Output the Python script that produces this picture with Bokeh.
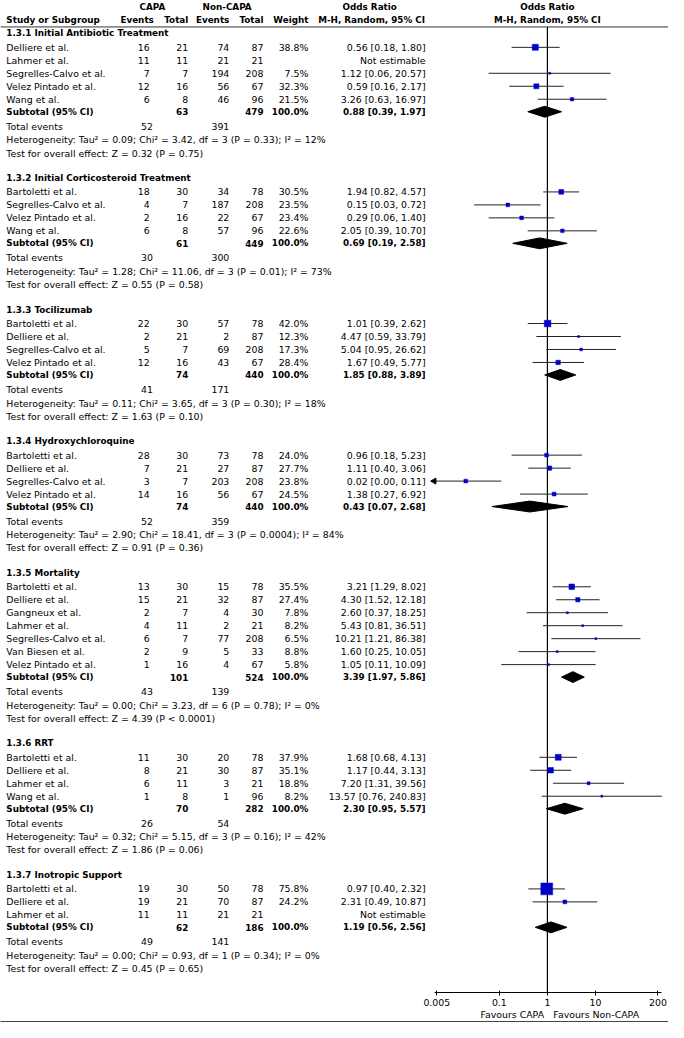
import math
from bokeh.plotting import figure
from bokeh.models import (Range1d, LogScale, LogAxis, LinearAxis, FixedTicker,
                          NumeralTickFormatter, CustomJSTickFormatter, ColumnDataSource)
from bokeh.core.properties import value
from bokeh.embed import file_html
from bokeh.resources import INLINE

# ---------------- data ----------------
group_titles = ["1.3.1 Initial Antibiotic Treatment", "1.3.2 Initial Corticosteroid Treatment",
                "1.3.3 Tocilizumab", "1.3.4 Hydroxychloroquine", "1.3.5 Mortality",
                "1.3.6 RRT", "1.3.7 Inotropic Support"]
study_names = [
    ["Delliere et al.", "Lahmer et al.", "Segrelles-Calvo et al.", "Velez Pintado et al.", "Wang et al."],
    ["Bartoletti et al.", "Segrelles-Calvo et al.", "Velez Pintado et al.", "Wang et al."],
    ["Bartoletti et al.", "Delliere et al.", "Segrelles-Calvo et al.", "Velez Pintado et al."],
    ["Bartoletti et al.", "Delliere et al.", "Segrelles-Calvo et al.", "Velez Pintado et al."],
    ["Bartoletti et al.", "Delliere et al.", "Gangneux et al.", "Lahmer et al.",
     "Segrelles-Calvo et al.", "Van Biesen et al.", "Velez Pintado et al."],
    ["Bartoletti et al.", "Delliere et al.", "Lahmer et al.", "Wang et al."],
    ["Bartoletti et al.", "Delliere et al.", "Lahmer et al."],
]
capa_events = [[16, 11, 7, 12, 6], [18, 4, 2, 6], [22, 2, 5, 12], [28, 7, 3, 14],
               [13, 15, 2, 4, 6, 2, 1], [11, 8, 6, 1], [19, 19, 11]]
capa_totals = [[21, 11, 7, 16, 8], [30, 7, 16, 8], [30, 21, 7, 16], [30, 21, 7, 16],
               [30, 21, 7, 11, 7, 9, 16], [30, 21, 11, 8], [30, 21, 11]]
non_events = [[74, 21, 194, 56, 46], [34, 187, 22, 57], [57, 2, 69, 43], [73, 27, 203, 56],
              [15, 32, 4, 2, 77, 5, 4], [20, 30, 3, 1], [50, 70, 21]]
non_totals = [[87, 21, 208, 67, 96], [78, 208, 67, 96], [78, 87, 208, 67], [78, 87, 208, 67],
              [78, 87, 30, 21, 208, 33, 67], [78, 87, 21, 96], [78, 87, 21]]
weights = [[38.8, None, 7.5, 32.3, 21.5], [30.5, 23.5, 23.4, 22.6], [42.0, 12.3, 17.3, 28.4],
           [24.0, 27.7, 23.8, 24.5], [35.5, 27.4, 7.8, 8.2, 6.5, 8.8, 5.8],
           [37.9, 35.1, 18.8, 8.2], [75.8, 24.2, None]]
or_est = [[0.56, None, 1.12, 0.59, 3.26], [1.94, 0.15, 0.29, 2.05], [1.01, 4.47, 5.04, 1.67],
          [0.96, 1.11, 0.02, 1.38], [3.21, 4.30, 2.60, 5.43, 10.21, 1.60, 1.05],
          [1.68, 1.17, 7.20, 13.57], [0.97, 2.31, None]]
or_low = [[0.18, None, 0.06, 0.16, 0.63], [0.82, 0.03, 0.06, 0.39], [0.39, 0.59, 0.95, 0.49],
          [0.18, 0.40, 0.00, 0.27], [1.29, 1.52, 0.37, 0.81, 1.21, 0.25, 0.11],
          [0.68, 0.44, 1.31, 0.76], [0.40, 0.49, None]]
or_high = [[1.80, None, 20.57, 2.17, 16.97], [4.57, 0.72, 1.40, 10.70], [2.62, 33.79, 26.62, 5.77],
           [5.23, 3.06, 0.11, 6.92], [8.02, 12.18, 18.25, 36.51, 86.38, 10.05, 10.09],
           [4.13, 3.13, 39.56, 240.83], [2.32, 10.87, None]]
sub_capa_total = [63, 61, 74, 74, 101, 70, 62]
sub_non_total = [479, 449, 440, 440, 524, 282, 186]
sub_or = [0.88, 0.69, 1.85, 0.43, 3.39, 2.30, 1.19]
sub_low = [0.39, 0.19, 0.88, 0.07, 1.97, 0.95, 0.56]
sub_high = [1.97, 2.58, 3.89, 2.68, 5.86, 5.57, 2.56]
tot_capa_events = [52, 30, 41, 52, 43, 26, 49]
tot_non_events = [391, 300, 171, 359, 139, 54, 141]
het_tau2 = ["0.09", "1.28", "0.11", "2.90", "0.00", "0.32", "0.00"]
het_chi2 = ["3.42", "11.06", "3.65", "18.41", "3.23", "5.15", "0.93"]
het_df = [3, 3, 3, 3, 6, 3, 1]
het_p = ["0.33", "0.01", "0.30", "0.0004", "0.78", "0.16", "0.34"]
het_i2 = [12, 73, 18, 84, 0, 42, 0]
z_values = ["0.32", "0.55", "1.63", "0.91", "4.39", "1.86", "0.45"]
z_p = ["P = 0.75", "P = 0.58", "P = 0.10", "P = 0.36", "P < 0.0001", "P = 0.06", "P = 0.65"]
axis_ticks = [0.005, 0.1, 1, 10, 200]
favours_labels = ["Favours CAPA", "Favours Non-CAPA"]

# ---------------- layout (reference pixel units) ----------------
W, H = 668, 1022
REF_W = 684.0
Y_AXIS = 1001.7
X_ONE = 560.0
PX_DEC = 49.2
FONT = "DejaVu Sans"
FS_N = "9.4px"
FS_B = "8.8px"
X_NAME = 6
X_CE, X_CT, X_NE, X_NT, X_WT, X_CI = 152.7, 192.3, 234.3, 269.3, 315.3, 435.3
X_TE = 156.0
AX_LO, AX_HI = 0.0044, 240.0
FAV_X = [524, 610]

p = figure(width=W, height=H, output_backend="svg", toolbar_location=None,
           x_range=Range1d(0, REF_W), y_range=Range1d(Y_AXIS, 0),
           x_axis_location=None, y_axis_location=None,
           min_border_left=0, min_border_right=0, min_border_top=0, min_border_bottom=0)
p.outline_line_color = None
p.grid.grid_line_color = None
p.background_fill_color = "white"
p.border_fill_color = "white"
p.extra_x_ranges = {"or": Range1d(start=10 ** ((0 - X_ONE) / PX_DEC),
                                  end=10 ** ((REF_W - X_ONE) / PX_DEC))}
p.extra_x_scales = {"or": LogScale()}

texts = {}


def add_text(x, y, t, align="left", bold=False):
    key = (align, bold)
    d = texts.setdefault(key, {"x": [], "y": [], "text": []})
    d["x"].append(x)
    d["y"].append(y)
    d["text"].append(t)


def f2(v):
    return "%.2f" % v


# headers
add_text(155.5, 7, "CAPA", "center", True)
add_text(232, 7, "Non-CAPA", "center", True)
add_text(378, 7, "Odds Ratio", "center", True)
add_text(X_ONE, 7, "Odds Ratio", "center", True)
add_text(X_NAME, 20, "Study or Subgroup", "left", True)
add_text(157, 20, "Events", "right", True)
add_text(X_CT, 20, "Total", "right", True)
add_text(X_NE, 20, "Events", "right", True)
add_text(X_NT, 20, "Total", "right", True)
add_text(X_WT, 20, "Weight", "right", True)
add_text(380, 20, "M-H, Random, 95% CI", "center", True)
add_text(X_ONE, 20, "M-H, Random, 95% CI", "center", True)

sq = {"x": [], "y": [], "size": []}
ci = {"x0": [], "x1": [], "y": []}
arrows = {"x": [], "y": []}
dia_xs, dia_ys = [], []

y = 33.3
for g in range(len(group_titles)):
    add_text(X_NAME, y, group_titles[g], "left", True)
    y += 14.0
    for i, name in enumerate(study_names[g]):
        add_text(X_NAME, y, name)
        add_text(X_CE, y, str(capa_events[g][i]), "right")
        add_text(X_CT, y, str(capa_totals[g][i]), "right")
        add_text(X_NE, y, str(non_events[g][i]), "right")
        add_text(X_NT, y, str(non_totals[g][i]), "right")
        w = weights[g][i]
        if w is None:
            add_text(X_CI, y, "Not estimable", "right")
        else:
            add_text(X_WT, y, "%.1f%%" % w, "right")
            lo, est, hi = or_low[g][i], or_est[g][i], or_high[g][i]
            add_text(X_CI, y, "%s [%s, %s]" % (f2(est), f2(lo), f2(hi)), "right")
            sq["x"].append(est)
            sq["y"].append(y)
            sq["size"].append(max(2.0, w * 0.16) * W / REF_W)
            lo_d = lo if lo >= axis_ticks[0] else AX_LO
            if lo < axis_ticks[0]:
                arrows["x"].append(AX_LO)
                arrows["y"].append(y)
            ci["x0"].append(lo_d)
            ci["x1"].append(hi)
            ci["y"].append(y)
        y += 13.1
    y += 12.6 - 13.1
    add_text(X_NAME, y, "Subtotal (95% CI)", "left", True)
    add_text(X_CT, y, str(sub_capa_total[g]), "right", True)
    add_text(X_NT, y, str(sub_non_total[g]), "right", True)
    add_text(X_WT, y, "100.0%", "right", True)
    add_text(X_CI, y, "%s [%s, %s]" % (f2(sub_or[g]), f2(sub_low[g]), f2(sub_high[g])), "right", True)
    dia_xs.append([sub_low[g], sub_or[g], sub_high[g], sub_or[g]])
    dia_ys.append([y, y - 5.5, y, y + 5.5])
    y += 14.8
    add_text(X_NAME, y, "Total events")
    add_text(X_TE, y, str(tot_capa_events[g]), "right")
    add_text(X_NE, y, str(tot_non_events[g]), "right")
    y += 13.6
    add_text(X_NAME, y, "Heterogeneity: Tau\u00b2 = %s; Chi\u00b2 = %s, df = %d (P = %s); I\u00b2 = %d%%"
             % (het_tau2[g], het_chi2[g], het_df[g], het_p[g], het_i2[g]))
    y += 13.3
    add_text(X_NAME, y, "Test for overall effect: Z = %s (%s)" % (z_values[g], z_p[g]))
    y += 25.3

# rules
p.segment(x0=[0], x1=[REF_W], y0=[26.7], y1=[26.7], line_color="#333333", line_width=1)
p.segment(x0=[1], x1=[1], y0=[26.7], y1=[Y_AXIS], line_color="black", line_width=1.2,
          x_range_name="or")

# forest marks
p.segment(x0="x0", x1="x1", y0="y", y1="y", source=ColumnDataSource(ci),
          line_color="#222222", line_width=1, x_range_name="or")
p.scatter(x="x", y="y", size=6, marker="triangle", angle=math.pi / 2, color="black",
          source=ColumnDataSource(arrows), x_range_name="or")
p.scatter(x="x", y="y", size="size", marker="square", fill_color="#0000CC", line_color="#0000CC",
          line_width=0.5, source=ColumnDataSource(sq), x_range_name="or")
p.patches(xs=dia_xs, ys=dia_ys, fill_color="black", line_color="black", x_range_name="or")

for (align, bold), d in texts.items():
    p.text(x="x", y="y", text="text", source=ColumnDataSource(d), text_align=align,
           text_baseline="middle", text_font=value(FONT), text_font_size=FS_B if bold else FS_N,
           text_font_style="bold" if bold else "normal", text_color="black")

# axes below
ax = LogAxis(x_range_name="or", ticker=FixedTicker(ticks=axis_ticks),
             formatter=NumeralTickFormatter(format="0.[000]"), bounds=(AX_LO, AX_HI))
ax.major_tick_in = 2
ax.major_tick_out = 3
ax.minor_tick_line_color = None
ax.major_label_standoff = 3
ax.major_label_text_font = FONT
ax.major_label_text_font_size = FS_N
ax.major_label_text_color = "black"
ax.axis_line_color = "black"
ax.major_tick_line_color = "black"
p.add_layout(ax, "below")

fav = LinearAxis(ticker=FixedTicker(ticks=FAV_X),
                 formatter=CustomJSTickFormatter(args=dict(labels=favours_labels),
                                                 code="return tick < 560 ? labels[0] : labels[1];"))
fav.axis_line_color = None
fav.major_tick_line_color = None
fav.minor_tick_line_color = None
fav.major_tick_in = 0
fav.major_tick_out = 0
fav.major_label_standoff = 0
fav.major_label_text_font = FONT
fav.major_label_text_font_size = FS_N
fav.major_label_text_color = "black"
p.add_layout(fav, "below")

spacer = LinearAxis(ticker=FixedTicker(ticks=[]), axis_line_color=None,
                    major_tick_in=0, major_tick_out=7, major_tick_line_color=None,
                    minor_tick_line_color=None)
p.add_layout(spacer, "below")

rule = LinearAxis(ticker=FixedTicker(ticks=[]), axis_line_color="#444444", axis_line_width=3,
                  major_tick_in=0, major_tick_out=3, major_tick_line_color=None,
                  minor_tick_line_color=None)
p.add_layout(rule, "below")

open("out.html", "w").write(file_html(p, INLINE))
